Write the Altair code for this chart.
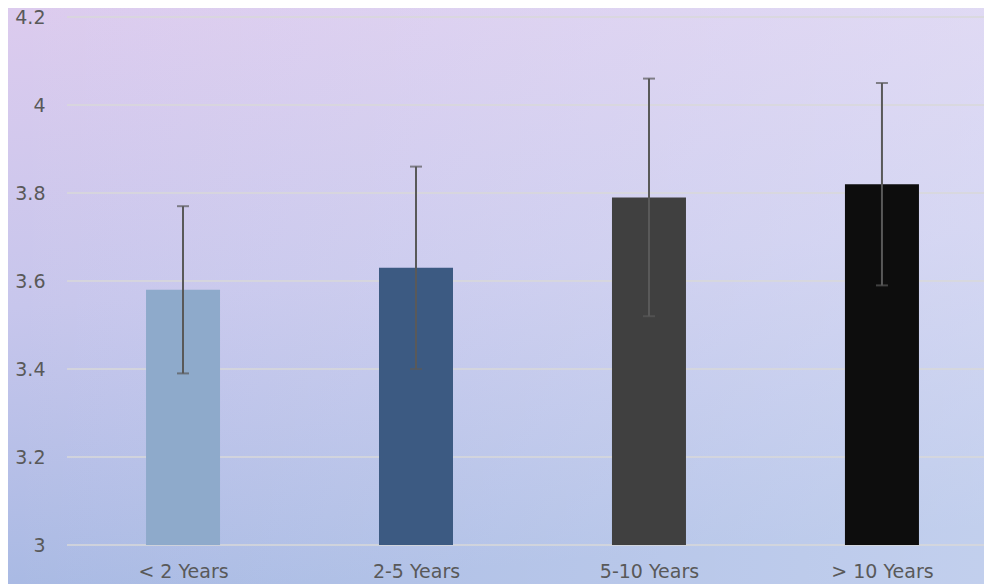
import json
import altair as alt
import pandas as pd

categories = ["< 2 Years", "2-5 Years", "5-10 Years", "> 10 Years"]
means = [3.58, 3.63, 3.79, 3.82]
lower = [3.39, 3.40, 3.52, 3.59]
upper = [3.77, 3.86, 4.06, 4.05]
bar_colors = ["#8eaacb", "#3c5a82", "#404040", "#0d0d0d"]
y_ticks = [3, 3.2, 3.4, 3.6, 3.8, 4, 4.2]
baseline = 3

order = list(range(len(categories)))
df = pd.DataFrame({"idx": order, "cat": categories, "mean": means, "lo": lower, "hi": upper,
                   "col": bar_colors, "base": [baseline] * len(categories)})
grid_df = pd.DataFrame({"v": y_ticks})

W, H = 917, 528
PL, PT, PR, PB = 59, 9, 0, 39
TXT = "#595959"
FONT = "DejaVu Sans"
FS = 19
BAR_W = 74

xscale = alt.Scale(domain=[-0.498, 3.438], nice=False, zero=False, padding=0)
yscale = alt.Scale(domain=[3, 4.2], nice=False, zero=False, padding=0)
label_expr = json.dumps(categories) + "[datum.value]"

one = alt.Data(values=[{"a": 1}])

bg = alt.Chart(one).mark_rect(
    color=alt.LinearGradient(
        gradient="linear",
        stops=[
            alt.GradientStop(color="#dccbee", offset=0),
            alt.GradientStop(color="#c7c6ec", offset=0.5),
            alt.GradientStop(color="#a7b9e3", offset=1),
        ],
        x1=0, x2=0.15, y1=0, y2=1,
    )
).encode(x=alt.value(-PL), x2=alt.value(W + 80), y=alt.value(-PT), y2=alt.value(H + PB + 10))

overlay = alt.Chart(one).mark_rect(
    color=alt.LinearGradient(
        gradient="linear",
        stops=[
            alt.GradientStop(color="rgba(240,245,255,0)", offset=0),
            alt.GradientStop(color="rgba(240,245,255,0.4)", offset=1),
        ],
        x1=0, x2=1, y1=0, y2=0,
    )
).encode(x=alt.value(-PL), x2=alt.value(W + 80), y=alt.value(-PT), y2=alt.value(H + PB + 10))

grid = alt.Chart(grid_df).mark_rule(color="#d9d9d9", strokeWidth=1.5).encode(
    y=alt.Y("v:Q", scale=yscale,
            axis=alt.Axis(values=y_ticks, format="~g", grid=False, domain=False, ticks=False, zindex=1,
                          labelPadding=22, labelFontSize=FS, labelColor=TXT, labelFont=FONT, title=None))
)

bars = alt.Chart(df).mark_bar(width=BAR_W).encode(
    x=alt.X("idx:Q", scale=xscale,
            axis=alt.Axis(values=order, labelExpr=label_expr, grid=False, domain=False, ticks=False,
                          labelPadding=17, zindex=1, labelFontSize=FS, labelColor=TXT,
                          labelFont=FONT, title=None)),
    y=alt.Y("mean:Q", scale=yscale),
    y2="base:Q",
    color=alt.Color("col:N", scale=None),
)

err = alt.Chart(df).mark_rule(color=TXT, strokeWidth=2).encode(
    x=alt.X("idx:Q", scale=xscale),
    y=alt.Y("lo:Q", scale=yscale),
    y2="hi:Q",
)

cap_hi = alt.Chart(df).mark_tick(color=TXT, thickness=2, size=12, orient="horizontal").encode(
    x=alt.X("idx:Q", scale=xscale),
    y=alt.Y("hi:Q", scale=yscale),
)
cap_lo = alt.Chart(df).mark_tick(color=TXT, thickness=2, size=12, orient="horizontal").encode(
    x=alt.X("idx:Q", scale=xscale),
    y=alt.Y("lo:Q", scale=yscale),
)

chart = alt.layer(bg, overlay, grid, bars, err, cap_hi, cap_lo).properties(
    width=W, height=H,
    autosize=alt.AutoSizeParams(type="none"),
    padding={"left": PL, "top": PT, "right": PR, "bottom": PB},
    background="#c7c6ec",
).configure_view(stroke=None)

chart.save("out.html", embed_options={"renderer": "svg", "actions": False})
